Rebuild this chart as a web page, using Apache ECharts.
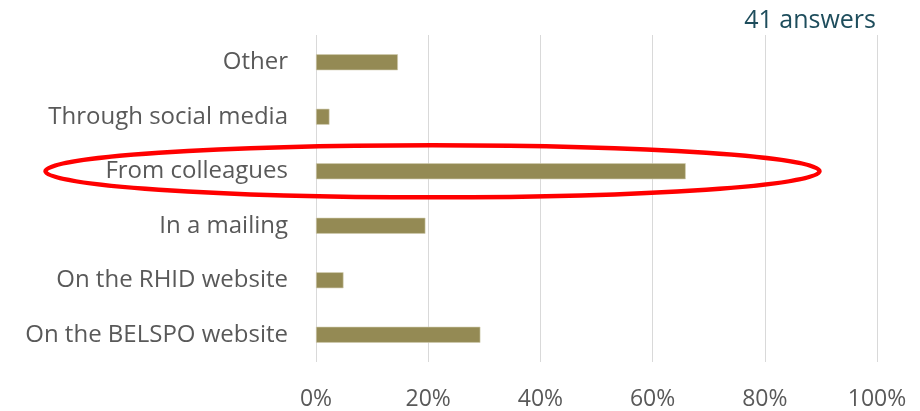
<!DOCTYPE html>
<html>
<head>
<meta charset="utf-8">
<style>
  html, body { margin: 0; padding: 0; background: #ffffff; }
  #chart { width: 920px; height: 411px; }
</style>
<script src="https://cdn.jsdelivr.net/npm/echarts@6/dist/echarts.min.js"></script>
</head>
<body>
<div id="chart"></div>
<script>
// Survey: how respondents heard about the call (share of 41 answers), bottom to top
const categories = [
  'On the BELSPO website',
  'On the RHID website',
  'In a mailing',
  'From colleagues',
  'Through social media',
  'Other'
];
const shares = [29.3, 4.9, 19.5, 65.9, 2.4, 14.6];
const xTicks = [0, 20, 40, 60, 80, 100];
const answerCount = 41;
const highlighted = 'From colleagues';

const labelFont = 'Open Sans';
const chart = echarts.init(document.getElementById('chart'), null, { renderer: 'canvas' });

chart.setOption({
  animation: false,
  backgroundColor: '#ffffff',
  grid: { left: 316, right: 43, top: 35, bottom: 49 },
  title: {
    text: answerCount + ' answers',
    right: 39,
    top: 3,
    textStyle: { fontFamily: labelFont, fontSize: 25, fontWeight: 'normal', color: '#1e4d5c' }
  },
  xAxis: {
    type: 'value',
    min: xTicks[0],
    max: xTicks[xTicks.length - 1],
    interval: xTicks[1] - xTicks[0],
    axisLine: { show: false },
    axisTick: { show: false },
    splitLine: { lineStyle: { color: '#d9d9d9', width: 1 } },
    axisLabel: {
      formatter: v => v + '%',
      margin: 26,
      fontFamily: labelFont, fontSize: 23, color: '#595959'
    }
  },
  yAxis: {
    type: 'category',
    data: categories,
    axisLine: { show: false },
    axisTick: { show: false },
    axisLabel: { margin: 28, fontFamily: labelFont, fontSize: 24, color: '#595959' }
  },
  series: [{
    type: 'bar',
    data: shares,
    barWidth: 16,
    itemStyle: { color: '#948a54', borderColor: '#d2cdb0', borderWidth: 0.6 }
  }]
});

// Red ring around the highlighted answer, placed on its category row
const rowY = chart.convertToPixel({ yAxisIndex: 0 }, highlighted);
chart.setOption({
  graphic: [{
    type: 'ellipse',
    shape: { cx: 432.5, cy: rowY, rx: 387, ry: 26 },
    style: { fill: 'none', stroke: '#ff0000', lineWidth: 4.5 },
    z: 100
  }]
});
</script>
</body>
</html>
